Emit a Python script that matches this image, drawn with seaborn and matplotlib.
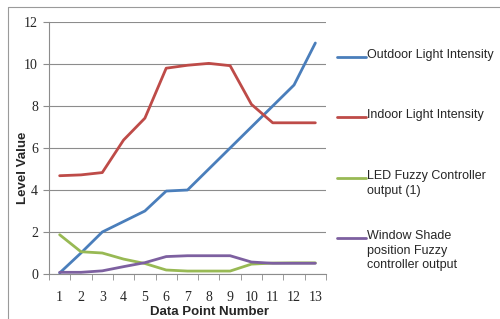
import matplotlib.pyplot as plt
from matplotlib.lines import Line2D
import seaborn as sns
import pandas as pd

points = list(range(1, 14))
outdoor = [0.05, 1.0, 2.0, 2.5, 3.0, 3.95, 4.0, 5.0, 6.0, 7.0, 8.0, 9.0, 11.0]
indoor = [4.68, 4.72, 4.83, 6.38, 7.42, 9.8, 9.94, 10.03, 9.92, 8.08, 7.2, 7.2, 7.2]
led = [1.87, 1.06, 1.0, 0.71, 0.5, 0.19, 0.14, 0.14, 0.14, 0.47, 0.52, 0.53, 0.53]
shade = [0.08, 0.08, 0.15, 0.35, 0.54, 0.83, 0.87, 0.87, 0.87, 0.57, 0.51, 0.51, 0.51]

series = ['Outdoor Light Intensity', 'Indoor Light Intensity',
          'LED Fuzzy Controller\noutput (1)',
          'Window Shade\nposition Fuzzy\ncontroller output']
colors = ['#4A7EBB', '#BE4B48', '#98B954', '#7D60A0']

df = pd.DataFrame({'point': points * 4,
                   'value': outdoor + indoor + led + shade,
                   'series': [s for s in series for _ in points]})

sns.set_style('white')
fig = plt.figure(figsize=(5, 3.19), dpi=100)
ax = fig.add_axes([49 / 500, 1 - 274 / 319, 277 / 500, 252 / 319])

sns.lineplot(data=df, x='point', y='value', hue='series', palette=colors,
             linewidth=2.0, legend=False, ax=ax)

ax.set_xlim(0.5, 13.5)
ax.set_ylim(0, 12)
ax.set_yticks(range(0, 13, 2))
ax.set_xticks(points)
ax.set_xticks([p + 0.5 for p in range(0, 14)], minor=True)
ax.yaxis.grid(True, color='#8c8c8c', linewidth=0.8)
for s in ['top', 'right']:
    ax.spines[s].set_visible(False)
for s in ['left', 'bottom']:
    ax.spines[s].set_color('#8c8c8c')
    ax.spines[s].set_linewidth(0.8)
ax.tick_params(axis='y', which='major', left=True, length=4, color='#8c8c8c',
               labelsize=10, pad=4)
ax.tick_params(axis='x', which='major', bottom=False, labelsize=10, pad=9)
ax.tick_params(axis='x', which='minor', bottom=True, length=4, color='#8c8c8c')
for lbl in ax.get_xticklabels() + ax.get_yticklabels():
    lbl.set_fontfamily('Liberation Serif')

ax.set_xlabel('Data Point Number', fontsize=9.5, fontweight='bold',
              family='Liberation Sans')
ax.set_ylabel('Level Value', fontsize=9.5, fontweight='bold',
              family='Liberation Sans')
ax.xaxis.set_label_coords(0.58, -0.151)
ax.yaxis.set_label_coords(-0.094, 0.42)
ax.xaxis.label.set_va('center')
ax.yaxis.label.set_va('center')

# legend drawn on the right, handle beside the first text line
legend_y = [57, 117, 178, 238]
for name, col, y in zip(series, colors, legend_y):
    fig.add_artist(Line2D([337 / 500, 366 / 500], [1 - y / 319] * 2,
                          color=col, linewidth=2.0))
    fig.text(367 / 500, 1 - (y - 8) / 319, name, fontsize=9,
             family='Liberation Sans', va='top', ha='left', linespacing=1.3)

# thin frame around the chart
fig.add_artist(Line2D([8 / 500, 8 / 500, 1.0], [0.0, 1 - 7 / 319, 1 - 7 / 319],
                      color='#9a9a9a', linewidth=0.8))

fig.savefig('out.png', dpi=100)
plt.close(fig)
